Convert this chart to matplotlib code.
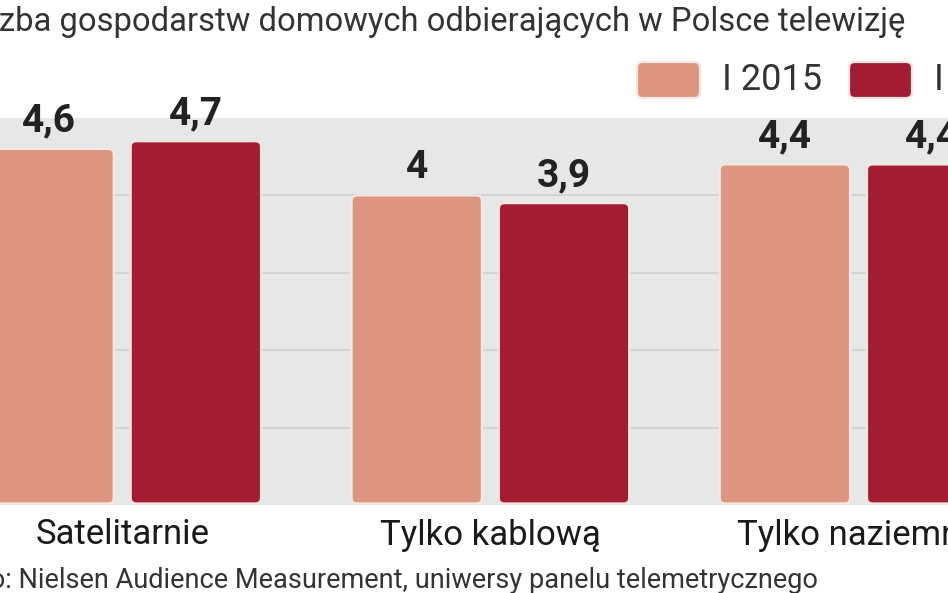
import matplotlib.pyplot as plt
from matplotlib.patches import FancyBboxPatch

plt.rcParams['font.family'] = ['Roboto', 'DejaVu Sans']

categories = ["Satelitarnie", "Tylko kablową", "Tylko naziemną"]
series_names = ["I 2015", "I 2016"]
values_2015 = [4.6, 4.0, 4.4]
values_2016 = [4.7, 3.9, 4.4]
labels_2015 = ["4,6", "4", "4,4"]
labels_2016 = ["4,7", "3,9", "4,4"]

c15 = "#DE9580"
c16 = "#A31C31"
W, H = 948, 593

fig = plt.figure(figsize=(W / 100, H / 100), dpi=100)
ax = fig.add_axes([0, 1 - 505 / H, 1, (505 - 118) / H])
ax.set_facecolor("#E6E7E7")
ax.set_xlim(-0.332, 2.243)
ax.set_ylim(0, 5)
for s in ax.spines.values():
    s.set_visible(False)
ax.set_xticks([])
ax.set_yticks([])
for g in [1, 2, 3, 4]:
    ax.axhline(g, color="#CFCFCF", lw=1.2, zorder=1)

bw, off = 0.354, 0.2
aspect = 4.74
for i in range(len(categories)):
    for v, lab, c, dx in [(values_2015[i], labels_2015[i], c15, -off),
                          (values_2016[i], labels_2016[i], c16, off)]:
        x = i + dx
        p = FancyBboxPatch((x - bw / 2, 0.02), bw, v - 0.02,
                           boxstyle="round,pad=0,rounding_size=0.015",
                           mutation_aspect=aspect, fc=c, ec="#F4E8E0", lw=1.6, zorder=2)
        ax.add_patch(p)
        ax.text(x, v + 0.12, lab, ha="center", va="bottom", fontsize=28,
                fontweight="bold", color="#222222", clip_on=False)

for i, cat in enumerate(categories):
    fig.text((i + 0.332) / 2.575, 1 - 535 / H, cat, ha="center", va="center",
             fontsize=25, color="#1a1a1a")

fig.text(905 / W, 1 - 22 / H, "Liczba gospodarstw domowych odbierających w Polsce telewizję",
         ha="right", va="center", fontsize=23.6, color="#333333")
fig.text(818 / W, 1 - 578 / H, "Źródło: Nielsen Audience Measurement, uniwersy panelu telemetrycznego",
         ha="right", va="center", fontsize=19.5, color="#333333")

# legend
for x0, c, name in [(637, c15, series_names[0]), (849, c16, series_names[1])]:
    box = FancyBboxPatch((x0 / W, 1 - 98 / H), 63 / W, 36 / H,
                         boxstyle="round,pad=0,rounding_size=0.006",
                         mutation_aspect=W / H, transform=fig.transFigure,
                         fc=c, ec="#F4E8E0", lw=1.6)
    fig.patches.append(box)
    fig.text((x0 + 85) / W, 1 - 80 / H, name, ha="left", va="center",
             fontsize=26, color="#333333")

fig.savefig("out.png", dpi=100)
